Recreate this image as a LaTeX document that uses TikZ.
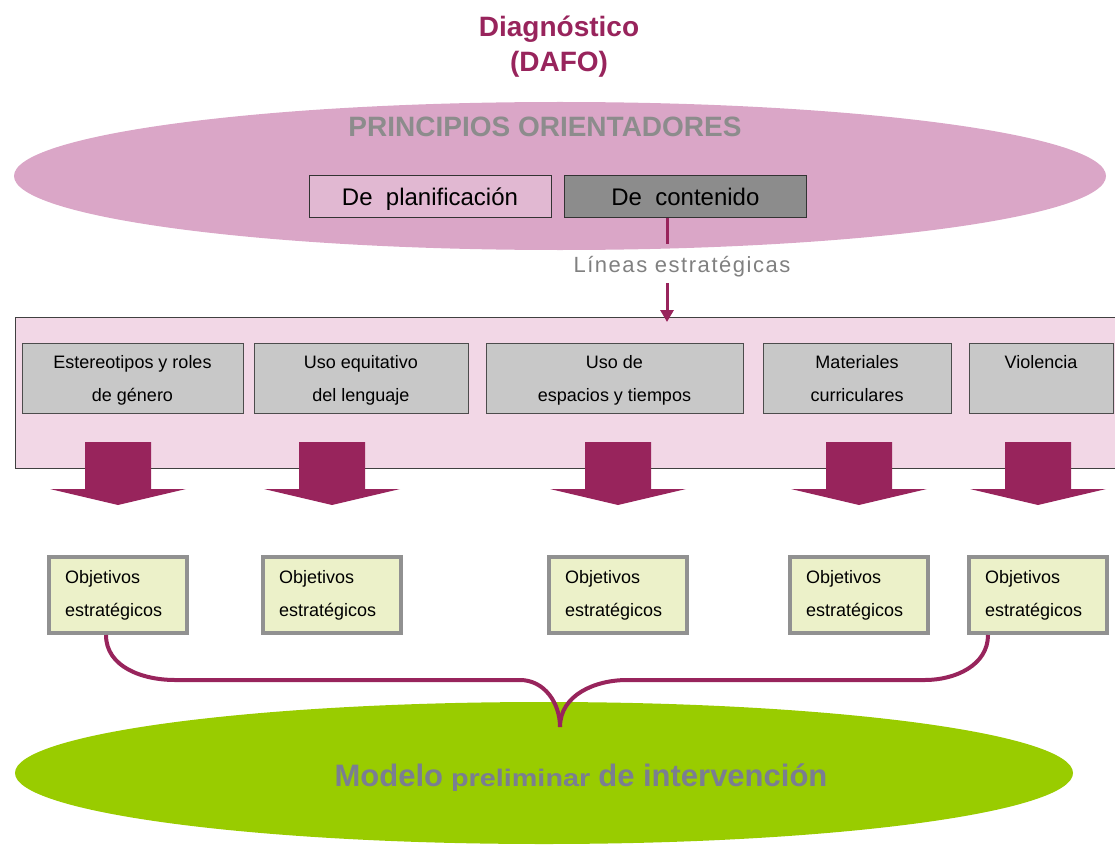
\documentclass[tikz,border=0pt]{standalone}
\usepackage{fontspec}
\setmainfont{Liberation Sans}
\newfontfamily\espaciada[LetterSpace=7]{Liberation Sans}
\newfontfamily\ancha[FakeStretch=1.2]{Liberation Sans}
\usepackage{xcolor}
\usepackage{tikz}
\usetikzlibrary{positioning}
\usetikzlibrary{shapes.geometric}
\usetikzlibrary{arrows.meta}
\definecolor{ciruela}{RGB}{152,36,92}
\definecolor{rosa}{RGB}{218,166,199}
\definecolor{rosaclaro}{RGB}{242,215,230}
\definecolor{grisbox}{RGB}{200,200,200}
\definecolor{grisosc}{RGB}{140,140,140}
\definecolor{grisborde}{RGB}{145,145,145}
\definecolor{verdeclaro}{RGB}{236,241,201}
\definecolor{verde}{RGB}{153,204,0}
\definecolor{textgris}{RGB}{128,128,128}
\definecolor{modelogris}{RGB}{122,126,146}
\tikzset{
  Caja/.style={draw=black!70, fill=grisbox, minimum width=#1pt, minimum height=70pt,
    inner sep=0pt, align=center, font=\fontsize{18}{33}\selectfont}, % Lineas estrategicas
  Principio/.style={draw=black!80, minimum width=242pt, minimum height=42pt,
    inner sep=0pt, text height=21pt, text depth=4pt, font=\fontsize{24}{28}\selectfont},
  Objetivo/.style={draw=grisborde, line width=4pt, fill=verdeclaro, minimum width=138pt,
    minimum height=76pt, text width=106pt, align=left, font=\fontsize{18}{33}\selectfont},
  Llave/.style={ciruela, line width=4pt},
  Flecha/.style={ciruela, line width=3pt, -{Triangle[length=12pt,width=13pt]}}
}

\begin{document}
\begin{tikzpicture}[x=1pt, y=-1pt]
\useasboundingbox (0,0) rectangle (1115,845);

%Titulo
\node[text=ciruela, font=\bfseries\fontsize{28}{35}\selectfont, align=center] (diag) at (559,47)
  {Diagnóstico\\(DAFO)};

%Principios
\node[ellipse, fill=rosa, minimum width=1092pt, minimum height=148pt] (princ) at (560,176) {};
\node[text=grisosc, font=\bfseries\fontsize{28}{32}\selectfont] (princtxt) at (545,127)
  {PRINCIPIOS ORIENTADORES};
\node[Principio, fill=rosa!80!white] (plan) at (430,196.5) {De~~planificación};
\node[Principio, fill=grisosc, right=13pt of plan] (cont) {De~~contenido};

%Lineas estrategicas
\node[text=textgris, font=\espaciada\fontsize{22}{26}\selectfont] (lineas) at (682,267)
  {Líneas estratégicas};
\node[draw=black!75, fill=rosaclaro, minimum width=1120pt, minimum height=151pt,
  anchor=north west, inner sep=0pt] (banda) at (15,317) {};
\draw[ciruela, line width=3pt] (cont.south -| 667,0) -- (667,244);
\draw[Flecha, shorten >=-5pt] (667,283) -- (banda.north -| 667,0);

\node[Caja=221] (est) at (132.5,378) {\strut Estereotipos y roles\\\strut de género};
\node[Caja=214] (len) at (361,378) {\strut Uso equitativo\\\strut del lenguaje};
\node[Caja=257] (esp) at (614.5,378) {\strut Uso de\\\strut espacios y tiempos};
\node[Caja=188] (mat) at (857,378) {\strut Materiales\\\strut curriculares};
\node[Caja=144] (vio) at (1041,378) {\strut Violencia\\\strut};

%Flechas grandes
\foreach \x in {118,332,618,859,1038}
  \fill[ciruela] (\x-33,442) -- (\x+33,442) -- (\x+33,489) -- (\x+68,489)
    -- (\x,505) -- (\x-68,489) -- (\x-33,489) -- cycle;

%Objetivos
\node[Objetivo] (obj1) at (118,595) {Objetivos\\estratégicos};
\node[Objetivo] (obj2) at (332,595) {Objetivos\\estratégicos};
\node[Objetivo] (obj3) at (618,595) {Objetivos\\estratégicos};
\node[Objetivo] (obj4) at (859,595) {Objetivos\\estratégicos};
\node[Objetivo] (obj5) at (1038,595) {Objetivos\\estratégicos};

%Modelo
\node[ellipse, fill=verde, minimum width=1058pt, minimum height=142pt] (modelo) at (544,773) {};
\coordinate (punta) at (560,727);
\draw[Llave] ([xshift=-12pt]obj1.south) to[out=-90,in=180] (175,680) -- (520,680)
  to[out=0,in=90] (punta);
\draw[Llave] ([xshift=-50pt]obj5.south) to[out=-90,in=0] (925,680) -- (627,680)
  to[out=180,in=90] (punta);
\node[text=modelogris, font=\bfseries] (modtxt) at (581,778)
  {{\fontsize{31}{36}\selectfont Modelo}\hspace{8pt}{\ancha\fontsize{24}{28}\selectfont preliminar}%
   \hspace{8pt}{\fontsize{31}{36}\selectfont de intervención}};

\end{tikzpicture}
\end{document}
